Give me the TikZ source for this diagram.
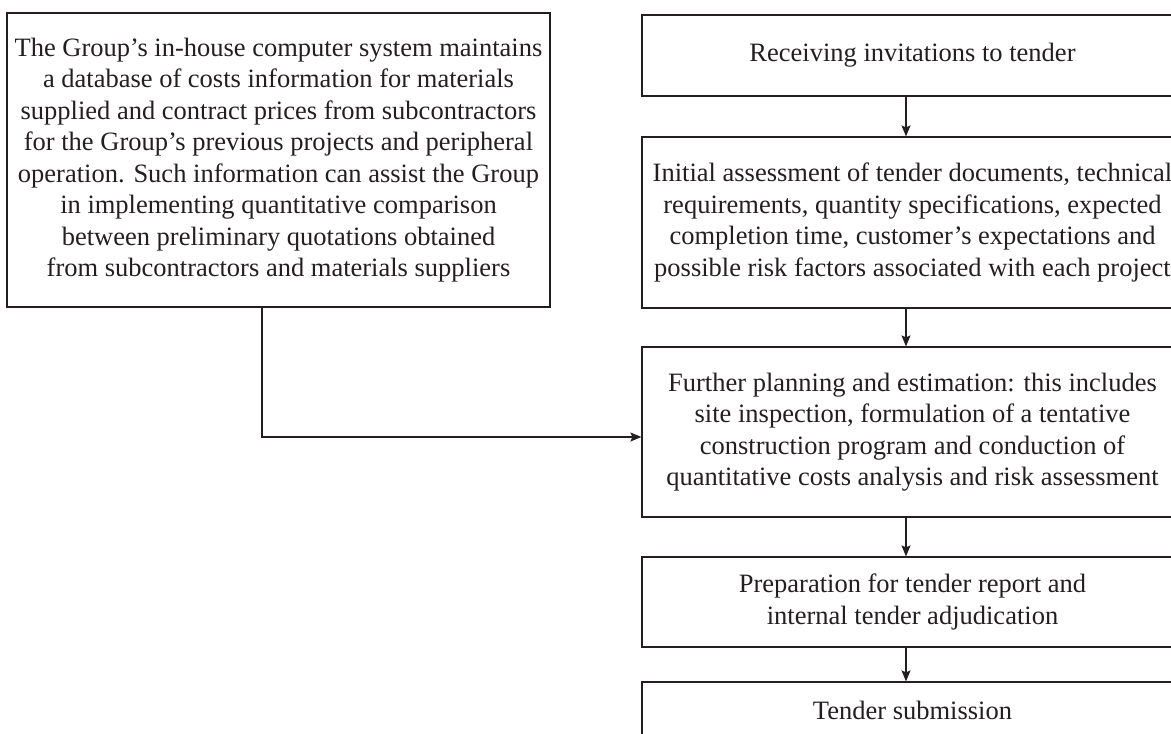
\documentclass[tikz,border=0pt]{standalone}
\usepackage{fontspec}
\setmainfont{Liberation Serif}
\usetikzlibrary{arrows.meta}
\definecolor{ink}{HTML}{231F20}
\tikzset{
  box/.style={draw=ink, line width=1.2pt, align=center, text=ink, inner sep=0pt,
    font=\fontsize{26.5}{31.5}\selectfont},
  arr/.style={draw=ink, line width=1.2pt, -{Stealth[length=11pt,width=9pt,inset=2pt]}},
}
\begin{document}
\begin{tikzpicture}[x=1pt,y=-1pt]
\useasboundingbox (0,0) rectangle (1171,734);
\node[box, minimum width=543pt, minimum height=294pt] (L) at (278.5,160)
 {The Group’s in-house computer system maintains\\
  a database of costs information for materials\\
  supplied and contract prices from subcontractors\\
  for the Group’s previous projects and peripheral\\
  operation. Such information can assist the Group\\
  in implementing quantitative comparison\\
  between preliminary quotations obtained\\
  from subcontractors and materials suppliers};
\node[box, minimum width=541pt, minimum height=81pt] (r1) at (912.5,55.5)
 {Receiving invitations to tender};
\node[box, minimum width=541pt, minimum height=171pt] (r2) at (912.5,222.5)
 {Initial assessment of tender documents, technical\\
  requirements, quantity specifications, expected\\
  completion time, customer’s expectations and\\
  possible risk factors associated with each project};
\node[box, minimum width=541pt, minimum height=170pt] (r3) at (912.5,432)
 {Further planning and estimation: this includes\\
  site inspection, formulation of a tentative\\
  construction program and conduction of\\
  quantitative costs analysis and risk assessment};
\node[box, minimum width=541pt, minimum height=90pt] (r4) at (912.5,602)
 {Preparation for tender report and\\
  internal tender adjudication};
\node[box, minimum width=541pt, minimum height=56pt] (r5) at (912.5,710)
 {Tender submission};
\coordinate (ax) at (906,0);
\coordinate (c1) at (262,437);
\draw[arr] (r1.south -| ax) -- (r2.north -| ax);
\draw[arr] (r2.south -| ax) -- (r3.north -| ax);
\draw[arr] (r3.south -| ax) -- (r4.north -| ax);
\draw[arr] (r4.south -| ax) -- (r5.north -| ax);
\draw[arr] (L.south -| c1) |- (r3.west |- c1);
\end{tikzpicture}
\end{document}
